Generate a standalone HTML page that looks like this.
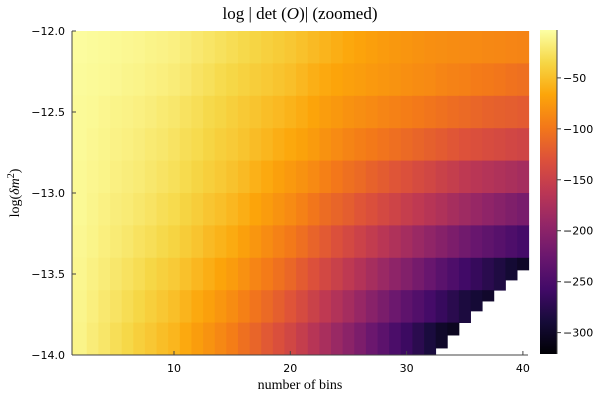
<!DOCTYPE html>
<html><head><meta charset="utf-8"><style>
html,body{margin:0;padding:0;background:#fff;}
svg{display:block;}
</style></head><body>
<svg id="chart" width="600" height="400" viewBox="0 0 600 400" xmlns="http://www.w3.org/2000/svg">
<defs>
<linearGradient id="cbgrad" x1="0" y1="1" x2="0" y2="0">
<stop offset="0" stop-color="#000004"/><stop offset="0.1" stop-color="#160b39"/><stop offset="0.2" stop-color="#420a68"/><stop offset="0.3" stop-color="#6a176e"/><stop offset="0.4" stop-color="#932667"/><stop offset="0.5" stop-color="#bc3754"/><stop offset="0.6" stop-color="#dd513a"/><stop offset="0.7" stop-color="#f37819"/><stop offset="0.8" stop-color="#fca50a"/><stop offset="0.9" stop-color="#f6d746"/><stop offset="1" stop-color="#fcffa4"/>
</linearGradient>
</defs>
<g id="cells"></g>
<line x1="72" y1="31" x2="72" y2="355" stroke="#444" stroke-width="1"/>
<line x1="72" y1="355" x2="528" y2="355" stroke="#444" stroke-width="1"/>
<g id="xticks"></g>
<g id="yticks"></g>
<text x="300" y="19" text-anchor="middle" font-family="Liberation Serif, serif" font-size="17">log | det (<tspan font-style="italic">O</tspan>)|  (zoomed)</text>
<text x="300" y="389" text-anchor="middle" font-family="Liberation Serif, serif" font-size="14">number of bins</text>
<text transform="translate(19,193) rotate(-90)" text-anchor="middle" font-family="Liberation Serif, serif" font-size="14">log(<tspan font-style="italic">δm</tspan><tspan font-size="10" dy="-5">2</tspan><tspan dy="5">)</tspan></text>
<rect x="540" y="30" width="17" height="324" fill="url(#cbgrad)"/>
<line x1="557" y1="30" x2="557" y2="354" stroke="#444" stroke-width="1"/>
<g id="cbticks"></g>
</svg>
<script>
const bins = [2,3,4,5,6,7,8,9,10,11,12,13,14,15,16,17,18,19,20,21,22,23,24,25,26,27,28,29,30,31,32,33,34,35,36,37,38,39,40];
const rowTops = [-12.0,-12.2,-12.4,-12.6,-12.8,-13.0,-13.2,-13.4,-13.6,-13.8];
const row0 = [-5,-6,-7,-8,-9,-10,-12,-13,-15,-18,-21,-24,-27,-30,-33,-36,-39,-42,-45,-49,-53,-57,-61,-65,-68,-71,-74,-76,-78,-80,-82,-83,-84,-85,-86,-87,-88,-89,-90];
const row1 = [-6,-7,-8,-9,-11,-12,-14,-16,-18,-21,-25,-28,-32,-35,-38,-41,-44,-47,-50,-55,-60,-64,-67,-70,-72,-75,-77,-79,-82,-84,-86,-89,-91,-93,-96,-98,-100,-103,-105];
const row2 = [-7,-8,-10,-12,-13,-15,-17,-20,-22,-26,-29,-33,-36,-40,-44,-47,-51,-54,-58,-62,-67,-72,-76,-80,-83,-86,-89,-92,-95,-98,-101,-104,-107,-110,-113,-116,-118,-120,-122];
const row3 = [-7,-9,-11,-13,-15,-17,-20,-22,-25,-29,-32,-36,-40,-43,-47,-52,-56,-61,-65,-69,-74,-80,-85,-90,-94,-98,-102,-106,-110,-114,-118,-122,-126,-130,-133,-136,-139,-142,-145];
const row4 = [-8,-10,-12,-15,-17,-19,-22,-25,-28,-32,-36,-40,-44,-48,-53,-59,-64,-70,-75,-80,-86,-93,-99,-105,-110,-116,-121,-127,-132,-138,-143,-149,-154,-160,-164,-168,-172,-176,-180];
const row5 = [-8,-11,-14,-17,-19,-22,-25,-29,-32,-37,-41,-46,-50,-55,-61,-67,-73,-79,-85,-92,-100,-108,-114,-120,-127,-133,-140,-146,-153,-159,-166,-172,-179,-185,-191,-197,-203,-209,-215];
const row6 = [-9,-12,-16,-19,-22,-26,-29,-33,-37,-42,-47,-53,-58,-63,-70,-77,-84,-91,-98,-106,-115,-123,-132,-140,-148,-156,-164,-172,-180,-188,-196,-204,-212,-220,-227,-234,-241,-248,-255];
const row7 = [-10,-14,-18,-22,-26,-30,-35,-39,-43,-49,-55,-61,-67,-73,-81,-89,-96,-104,-112,-122,-131,-141,-150,-160,-169,-179,-188,-198,-207,-217,-227,-238,-248,-258,-266,-275,-283,-292,-300];
const row8 = [-11,-16,-21,-25,-30,-35,-40,-45,-50,-57,-64,-70,-77,-84,-93,-102,-110,-119,-128,-138,-149,-159,-170,-180,-191,-202,-213,-224,-235,-245,-255,-265,-275,-285,-291,-297,-303,-309,-315];
const row9 = [-12,-18,-23,-29,-34,-40,-45,-51,-56,-64,-72,-79,-87,-95,-105,-114,-124,-133,-143,-154,-166,-177,-189,-200,-212,-225,-237,-250,-262,-274,-286,-298,-304,-310,-312,-314,-316,-318,-320];
const rows = [row0,row1,row2,row3,row4,row5,row6,row7,row8,row9];
const missingBins = [33,34,35,36,37,38,39,40];
const missingBelow = [-13.957,-13.877,-13.80,-13.728,-13.667,-13.60,-13.537,-13.475];
const xTicks = [10,20,30,40];
const yTicks = [-12.0,-12.5,-13.0,-13.5,-14.0];
const yTickLabels = ["−12.0","−12.5","−13.0","−13.5","−14.0"];
const cbTicks = [-50,-100,-150,-200,-250,-300];
const cbTickLabels = ["−50","−100","−150","−200","−250","−300"];
const cMin = -321, cMax = -3;
const rowStep = 0.2;

const NS = "http://www.w3.org/2000/svg";
function xs(b){ return 174 + (b-10)*11.63; }
function ys(v){ return 31 + (-12 - v)*162; }
function cs(v){ return 354 - (v - cMin)/(cMax - cMin)*324; }
const stops = [[0,[0,0,4]],[0.1,[22,11,57]],[0.2,[66,10,104]],[0.3,[106,23,110]],[0.4,[147,38,103]],[0.5,[188,55,84]],[0.6,[221,81,58]],[0.7,[243,120,25]],[0.8,[252,165,10]],[0.9,[246,215,70]],[1,[252,255,164]]];
function inferno(v){
  let t = Math.max(0, Math.min(1, (v - cMin)/(cMax - cMin)));
  for (let i=1;i<stops.length;i++){
    if (t <= stops[i][0]){
      const a=stops[i-1], b=stops[i], f=(t-a[0])/(b[0]-a[0]);
      const c=a[1].map((x,k)=>Math.round(x+(b[1][k]-x)*f));
      return "rgb("+c.join(",")+")";
    }
  }
  return "rgb(252,255,164)";
}
const cells = document.getElementById("cells");
rows.forEach((row, r) => {
  row.forEach((v, i) => {
    const b = bins[i];
    const top = rowTops[r];
    let bottom = top - rowStep;
    const mi = missingBins.indexOf(b);
    if (mi >= 0 && missingBelow[mi] > bottom) bottom = missingBelow[mi];
    if (bottom >= top) return;
    const el = document.createElementNS(NS, "rect");
    
    
    let x0 = xs(b-0.5), x1 = xs(b+0.5);
    if (b === bins[0]) x0 = 72.5;
    el.setAttribute("x", x0.toFixed(2));
    el.setAttribute("y", ys(top).toFixed(2));
    el.setAttribute("width", (x1-x0+0.4).toFixed(2));
    el.setAttribute("height", (ys(bottom)-ys(top)+0.4).toFixed(2));
    el.setAttribute("fill", inferno(v));
    cells.appendChild(el);
  });
});
const xt = document.getElementById("xticks");
xTicks.forEach(t => {
  const ln = document.createElementNS(NS, "line");
  
  
  ln.setAttribute("x1", xs(t)); ln.setAttribute("x2", xs(t));
  ln.setAttribute("y1", 355); ln.setAttribute("y2", 351);
  ln.setAttribute("stroke", "#444");
  xt.appendChild(ln);
  const tx = document.createElementNS(NS, "text");
  
  
  tx.setAttribute("x", xs(t)); tx.setAttribute("y", 372);
  tx.setAttribute("text-anchor", "middle");
  tx.setAttribute("font-family", "DejaVu Sans, Liberation Sans, sans-serif");
  tx.setAttribute("font-size", "11");
  tx.textContent = String(t);
  xt.appendChild(tx);
});
const yt = document.getElementById("yticks");
yTicks.forEach((t, i) => {
  const ln = document.createElementNS(NS, "line");
  
  
  ln.setAttribute("x1", 72); ln.setAttribute("x2", 76);
  ln.setAttribute("y1", ys(t)); ln.setAttribute("y2", ys(t));
  ln.setAttribute("stroke", "#444");
  yt.appendChild(ln);
  const tx = document.createElementNS(NS, "text");
  
  
  tx.setAttribute("x", 65); tx.setAttribute("y", ys(t)+4);
  tx.setAttribute("text-anchor", "end");
  tx.setAttribute("font-family", "DejaVu Sans, Liberation Sans, sans-serif");
  tx.setAttribute("font-size", "11");
  tx.textContent = yTickLabels[i];
  yt.appendChild(tx);
});
const ct = document.getElementById("cbticks");
cbTicks.forEach((t, i) => {
  const ln = document.createElementNS(NS, "line");
  
  
  ln.setAttribute("x1", 557); ln.setAttribute("x2", 561);
  ln.setAttribute("y1", cs(t)); ln.setAttribute("y2", cs(t));
  ln.setAttribute("stroke", "#444");
  ct.appendChild(ln);
  const tx = document.createElementNS(NS, "text");
  
  
  tx.setAttribute("x", 563); tx.setAttribute("y", cs(t)+4);
  tx.setAttribute("font-family", "DejaVu Sans, Liberation Sans, sans-serif");
  tx.setAttribute("font-size", "11");
  tx.textContent = cbTickLabels[i];
  ct.appendChild(tx);
});
</script>
</body></html>
